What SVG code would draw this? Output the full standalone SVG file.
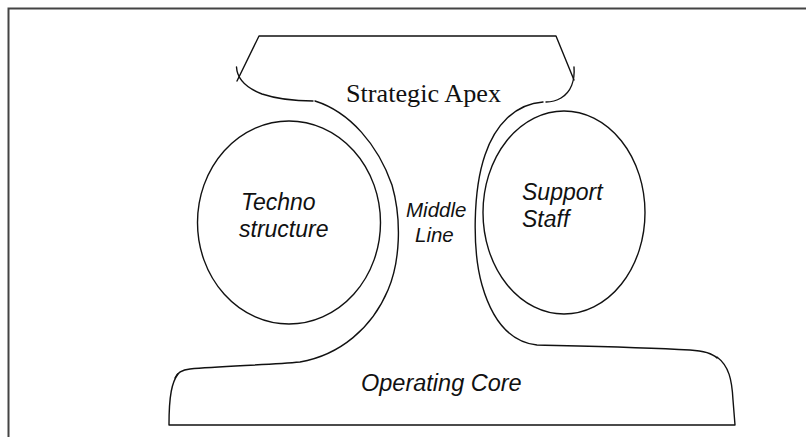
<svg xmlns="http://www.w3.org/2000/svg" width="806" height="437" viewBox="0 0 806 437">
<style>
.ln{fill:none;stroke:#111;stroke-width:1.4;stroke-linecap:round;stroke-linejoin:round}
.serif{font-family:"Liberation Serif","Times New Roman",serif;fill:#111}
.sans{font-family:"Liberation Sans",Arial,sans-serif;font-style:italic;fill:#111}
</style>
<rect width="806" height="437" fill="#fff"/>
<path d="M8.5,437 V8.5 H806" fill="none" stroke="#444" stroke-width="2"/>
<g id="strategic-apex">
<path class="ln" d="M237,81 L259,36 H556 L574,80"/>
<path class="ln" d="M236.5,67 C237,77 244,87 262,94 C280,100 296,101 313,101"/>
<path class="ln" d="M574,67 C575,80 571,92 561,98 C556,101 551,102 546,102"/>
<text class="serif" x="346" y="101.7" font-size="25" textLength="155" lengthAdjust="spacingAndGlyphs">Strategic Apex</text>
</g>
<g id="middle-line">
<path class="ln" d="M315,101 C350,112 378,145 392,185 C402,220 400,262 388,290 C372,328 340,355 300,362 C270,365 220,366 190,369 C181,370 177,373 175,378"/>
<path class="ln" d="M543,102 C515,104 495,125 485,155 C473,190 472,250 482,285 C492,320 510,342 537,345 C580,346 640,347 690,350 C705,351 713,354 717,358"/>
<text class="sans" font-size="20.5"><tspan x="406" y="217">Middle</tspan><tspan x="415" y="242">Line</tspan></text>
</g>
<g id="technostructure">
<ellipse class="ln" cx="289" cy="222.5" rx="91.5" ry="101.5"/>
<text class="sans" font-size="23"><tspan x="241" y="210">Techno</tspan><tspan x="239" y="237">structure</tspan></text>
</g>
<g id="support-staff">
<ellipse class="ln" cx="564" cy="212.5" rx="81" ry="101.5"/>
<text class="sans" font-size="23"><tspan x="522" y="200">Support</tspan><tspan x="522" y="227">Staff</tspan></text>
</g>
<g id="operating-core">
<path class="ln" d="M178,374 C172,382 169,395 169,425 L735,425 L733,400 C732,380 729,366 717,357"/>
<text class="sans" x="361" y="391" font-size="23.5">Operating Core</text>
</g>
<g id="connectors"/>
</svg>
